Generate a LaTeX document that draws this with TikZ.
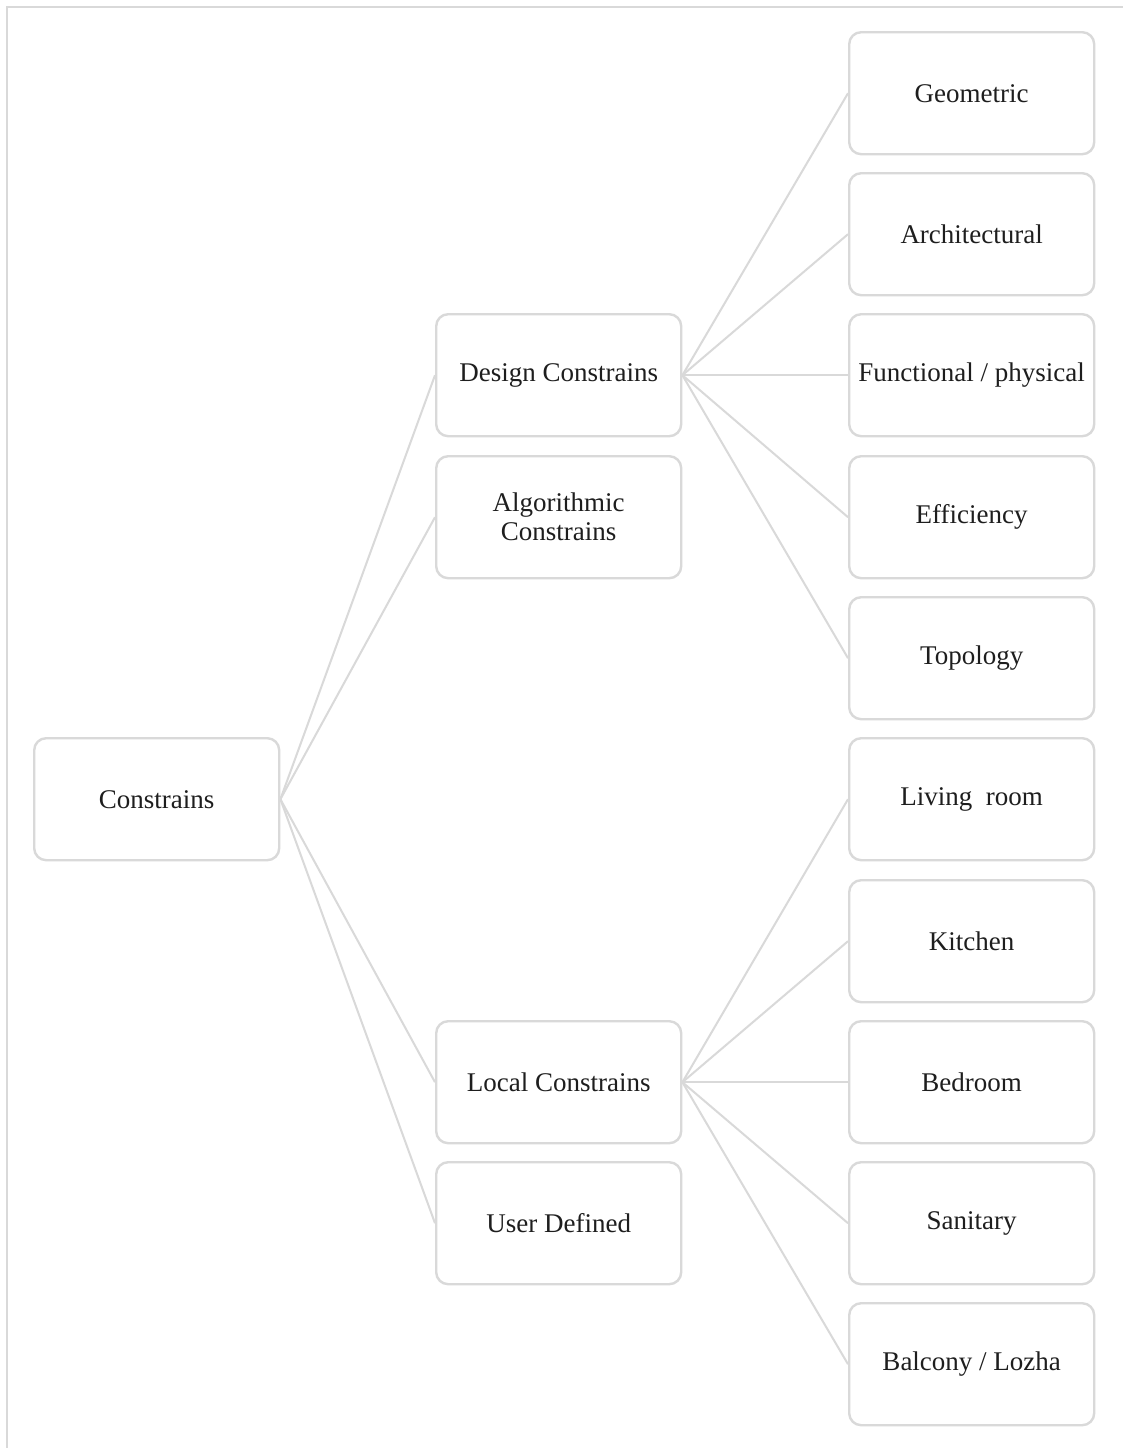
\documentclass[tikz,border=0pt]{standalone}
\usepackage{fontspec}
\setmainfont{Liberation Serif}
\definecolor{boxgray}{RGB}{217,217,217}
\definecolor{txt}{RGB}{30,30,30}
\begin{document}
\begin{tikzpicture}[x=1pt,y=-1pt,
  cbox/.style={draw=boxgray, line width=2.4pt, rounded corners=12pt, fill=white,
    minimum width=245pt, minimum height=122pt, inner sep=2pt, align=center,
    text=txt, font=\fontsize{27}{28}\selectfont, anchor=north west},
  link/.style={draw=boxgray, line width=2pt}]
\useasboundingbox (0,0) rectangle (1123,1448);
\fill[white] (0,0) rectangle (1123,1448);
\draw[boxgray, line width=2.4pt] (7,1448) -- (7,7) -- (1123,7);

\node[cbox] (root) at (33,737) {Constrains};

\node[cbox] (design) at (435,313) {Design Constrains};
\node[cbox] (algo) at (435,455) {Algorithmic\\[1pt]Constrains};
\node[cbox] (local) at (435,1020) {Local Constrains};
\node[cbox] (user) at (435,1161) {User Defined};

\node[cbox] (geo) at (848,31) {Geometric};
\node[cbox] (arch) at (848,172) {Architectural};
\node[cbox, inner sep=0pt] (func) at (848,313) {Functional / physical};
\node[cbox] (eff) at (848,455) {Efficiency};
\node[cbox] (topo) at (848,596) {Topology};
\node[cbox] (living) at (848,737) {Living\ \ room};
\node[cbox] (kitchen) at (848,879) {Kitchen};
\node[cbox] (bed) at (848,1020) {Bedroom};
\node[cbox] (san) at (848,1161) {Sanitary};
\node[cbox] (balc) at (848,1302) {Balcony / Lozha};

\foreach \t in {design,algo,local,user}
  \draw[link] (root.east) -- (\t.west);
\foreach \t in {geo,arch,func,eff,topo}
  \draw[link] (design.east) -- (\t.west);
\foreach \t in {living,kitchen,bed,san,balc}
  \draw[link] (local.east) -- (\t.west);
\end{tikzpicture}
\end{document}
